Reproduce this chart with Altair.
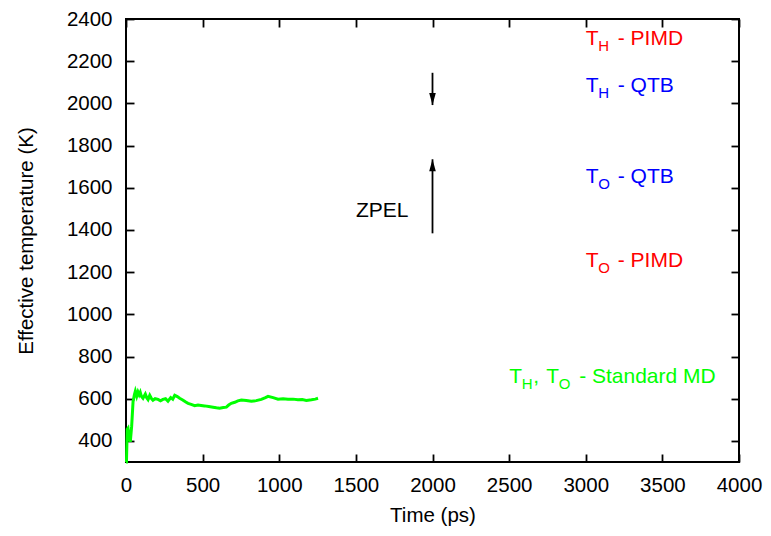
import altair as alt
import pandas as pd

# ---- data ----
time_ps = [0, 3, 8, 13, 20, 28, 37, 46, 55, 61, 70, 78, 86, 93, 100, 111, 118, 126,
           135, 144, 155, 165, 176, 190, 209, 225, 241, 258, 274, 292, 305, 318, 335,
           350, 370, 390, 405, 425, 448, 470, 490, 513, 540, 568, 590, 611, 635, 655,
           670, 687, 710, 730, 753, 785, 818, 850, 883, 910, 927, 960, 992, 1025, 1057,
           1090, 1122, 1150, 1177, 1210, 1235, 1253]
temp_k = [300, 300, 455, 460, 420, 396, 470, 586, 620, 636, 612, 632, 618, 630, 612,
          602, 612, 622, 605, 596, 616, 602, 593, 600, 597, 590, 597, 600, 588, 605,
          598, 616, 610, 602, 594, 584, 578, 573, 567, 570, 568, 566, 563, 560, 557,
          555, 558, 560, 570, 578, 583, 590, 594, 592, 588, 591, 597, 605, 611, 605,
          598, 600, 598, 598, 595, 596, 592, 595, 598, 602]

x_ticks = [0, 500, 1000, 1500, 2000, 2500, 3000, 3500, 4000]
y_ticks = [400, 600, 800, 1000, 1200, 1400, 1600, 1800, 2000, 2200, 2400]

arrow_x = [2000, 2000]
arrow_start = [2145, 1384]
arrow_tip = [1992, 1735]
arrow_dir = ["down", "up"]

zpel_x = [1500]
zpel_y = [1463]
zpel_text = ["ZPEL"]

label_x = [3000, 3000, 3000, 3000, 2500]
label_y = [2277, 2055, 1624, 1226, 676]
label_color = ["#ff0000", "#0000ff", "#0000ff", "#ff0000", "#00ff00"]
# fragments: (text, dx, is_subscript)
label_parts = [
    [("T", 0, False), ("H", 12.5, True), ("- PIMD", 32, False)],
    [("T", 0, False), ("H", 12.5, True), ("- QTB", 32, False)],
    [("T", 0, False), ("O", 12.5, True), ("- QTB", 32, False)],
    [("T", 0, False), ("O", 12.5, True), ("- PIMD", 32, False)],
    [("T", 0, False), ("H", 12.5, True), (",", 24, False), ("T", 37, False),
     ("O", 49.5, True), ("- Standard MD", 70, False)],
]

W, H = 613, 443
FONT = "Liberation Sans"
TICK = 8

xs = alt.Scale(domain=[0, 4000], nice=False)
ys = alt.Scale(domain=[300, 2400], nice=False, zero=False)

# main axes: shifted inward by the tick length so the ticks point into the plot
x_main = alt.Axis(values=x_ticks, format="d", title="Time (ps)", orient="bottom",
                  offset=-TICK, tickSize=TICK, labelPadding=13, titlePadding=10,
                  labelFlush=False)
y_main = alt.Axis(values=y_ticks, format="d", title="Effective temperature (K)",
                  orient="left", offset=-TICK, tickSize=TICK, labelPadding=14,
                  titlePadding=30)
# mirrored axes (top / right): ticks only
x_mirror = alt.Axis(values=x_ticks, orient="top", offset=-TICK, tickSize=TICK,
                    labels=False, title="")
y_mirror = alt.Axis(values=y_ticks, orient="right", offset=-TICK, tickSize=TICK,
                    labels=False, title="")

df_line = pd.DataFrame({"t": time_ps, "v": temp_k})
line = alt.Chart(df_line).mark_line(color="#00ff00", strokeWidth=3).encode(
    x=alt.X("t:Q", scale=xs, axis=x_main), y=alt.Y("v:Q", scale=ys, axis=y_main))

X = lambda: alt.X("t:Q", scale=xs, axis=x_mirror)
Y = lambda f="v": alt.Y(f"{f}:Q", scale=ys, axis=y_mirror)

df_arrow = pd.DataFrame({"t": arrow_x, "v": arrow_start, "v2": arrow_tip, "dir": arrow_dir})
shafts = alt.Chart(df_arrow).mark_rule(color="black", strokeWidth=1.8).encode(
    x=X(), y=Y(), y2="v2:Q")
heads = []
for d, path in [("down", "M0,0L-0.55,-2L0.55,-2Z"), ("up", "M0,0L-0.55,2L0.55,2Z")]:
    heads.append(
        alt.Chart(df_arrow[df_arrow["dir"] == d]).mark_point(
            shape=path, size=144, filled=True, color="black", opacity=1, strokeWidth=0.5
        ).encode(x=X(), y=Y("v2"))
    )

df_z = pd.DataFrame({"t": zpel_x, "v": zpel_y, "txt": zpel_text})
zpel = alt.Chart(df_z).mark_text(align="left", baseline="alphabetic", fontSize=21,
                                 font=FONT, color="black").encode(x=X(), y=Y(), text="txt:N")

texts = []
for lx, ly, col, parts in zip(label_x, label_y, label_color, label_parts):
    for txt, ddx, sub in parts:
        dfl = pd.DataFrame({"t": [lx], "v": [ly], "txt": [txt]})
        texts.append(
            alt.Chart(dfl).mark_text(
                align="left", baseline="alphabetic", font=FONT,
                fontSize=15 if sub else 21, dx=ddx, dy=6.5 if sub else 0, color=col
            ).encode(x=X(), y=Y(), text="txt:N")
        )

annotations = alt.layer(shafts, *heads, zpel, *texts)

chart = alt.layer(line, annotations).resolve_axis(
    x="independent", y="independent"
).properties(
    width=W, height=H,
    autosize=alt.AutoSizeParams(type="none"),
    padding={"left": 118, "top": 11, "right": 24, "bottom": 66},
).configure_view(
    stroke="black", strokeWidth=2
).configure_axis(
    domain=False, ticks=True, tickColor="#000000", tickWidth=1.8, tickOpacity=1,
    grid=False, zindex=2,
    labelFont=FONT, labelFontSize=20.5, labelColor="black",
    titleFont=FONT, titleFontSize=20.5, titleColor="black", titleFontWeight="normal",
)

chart.save("out.html", embed_options={"renderer": "svg", "actions": False})
